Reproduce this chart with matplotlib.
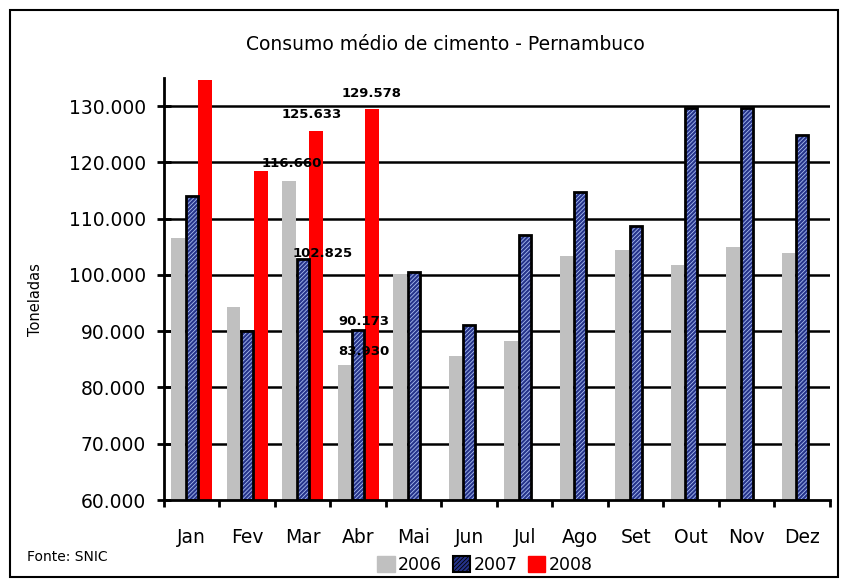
import matplotlib
matplotlib.use("Agg")
import matplotlib.pyplot as plt
from matplotlib.patches import Rectangle, Patch
import numpy as np

months = ["Jan", "Fev", "Mar", "Abr", "Mai", "Jun", "Jul", "Ago", "Set", "Out", "Nov", "Dez"]
v2006 = [106500, 94300, 116660, 83930, 100200, 85600, 88250, 103350, 104400, 101750, 105000, 103900]
v2007 = [114000, 90000, 102825, 90173, 100600, 91100, 107100, 114700, 108750, 129650, 129650, 124850]
v2008 = [134600, 118400, 125633, 129578]
yticks = [60000, 70000, 80000, 90000, 100000, 110000, 120000, 130000]
ytick_labels = ["60.000", "70.000", "80.000", "90.000", "100.000", "110.000", "120.000", "130.000"]

# labelled values: (series, month index, text)
labels = [
    (2008, 3, "129.578"),
    (2008, 2, "125.633"),
    (2006, 2, "116.660"),
    (2007, 2, "102.825"),
    (2007, 3, "90.173"),
    (2006, 3, "83.930"),
]

W, H = 845, 584
fig = plt.figure(figsize=(W / 100, H / 100), dpi=100)
fig.patch.set_facecolor("white")

# outer frame
fig.add_artist(Rectangle((10 / W, 1 - 577 / H), (838 - 10) / W, (577 - 10) / H,
                         transform=fig.transFigure, fill=False, edgecolor="black", lw=1.5))

ax = fig.add_axes([164 / W, 1 - 500 / H, (830 - 164) / W, (500 - 78) / H])
ax.set_xlim(0, 12)
ax.set_ylim(60000, 135000)

x = np.arange(12) + 0.5
bw = 0.245
gray = "#c0c0c0"
navy = "#25338a"
hatchc = "#a9bdf0"
red = "#ff0000"

for yt in yticks[1:]:
    ax.axhline(yt, color="black", lw=1.8, zorder=1)

ax.bar(x - bw, np.array(v2006) - 60000, bottom=60000, width=bw, color=gray, zorder=2, linewidth=0)
plt.rcParams["hatch.linewidth"] = 0.6
ax.bar(x, np.array(v2007) - 60000, bottom=60000, width=bw * 0.85, color=navy,
       hatch="////////", edgecolor=hatchc, linewidth=0, zorder=2)
ax.bar(x, np.array(v2007) - 60000, bottom=60000, width=bw * 0.85, fill=False,
       edgecolor="black", linewidth=2, zorder=3)
ax.bar(x[:4] + bw, np.array(v2008) - 60000, bottom=60000, width=bw * 1.05, color=red,
       linewidth=0, zorder=2)

series = {2006: (v2006, -bw), 2007: (v2007, 0.0), 2008: (v2008, bw)}
offsets = {  # label offsets in points (dx, dy)
    (2008, 3): (0, 11),
    (2008, 2): (-3, 12),
    (2006, 2): (2, 13),
    (2007, 2): (14, 4),
    (2007, 3): (4, 6),
    (2006, 3): (14, 10),
}
for s, i, t in labels:
    vals, off = series[s]
    dx, dy = offsets[(s, i)]
    ax.annotate(t, (x[i] + off, vals[i]), xytext=(dx, dy), textcoords="offset points",
                ha="center", va="center", fontsize=9.5, fontweight="bold", zorder=5,
                family="DejaVu Sans")

for sp in ["top", "right"]:
    ax.spines[sp].set_visible(False)
ax.spines["left"].set_linewidth(2)
ax.spines["bottom"].set_linewidth(2)

ax.set_yticks(yticks)
ax.set_yticklabels(ytick_labels, fontsize=13.5)
ax.tick_params(axis="y", direction="inout", length=10, width=2, pad=8)
ax.set_xticks(np.arange(13))
ax.set_xticklabels([""] * 13)
ax.tick_params(axis="x", direction="out", length=5, width=2)
ax.set_xticks(x, minor=True)
ax.set_xticklabels(months, minor=True, fontsize=13.5)
ax.tick_params(axis="x", which="minor", length=0, pad=20)

fig.text(35 / W, 1 - 300 / H, "Toneladas", rotation=90, ha="center", va="center", fontsize=10.5)
fig.text(445 / W, 1 - 45 / H, "Consumo médio de cimento - Pernambuco", ha="center", va="center",
         fontsize=13.5)
fig.text(27 / W, 1 - 557 / H, "Fonte: SNIC", ha="left", va="center", fontsize=10)

# legend
handles = [
    Patch(facecolor=gray, edgecolor=gray, label="2006"),
    Patch(facecolor=navy, edgecolor="black", hatch="////////", label="2007", linewidth=1.5),
    Patch(facecolor=red, edgecolor=red, label="2008"),
]
fig.legend(handles=handles, loc="center", bbox_to_anchor=(485 / W, 1 - 565 / H), ncol=3,
           frameon=False, fontsize=12.5, handlelength=1.0, handleheight=1.0,
           handletextpad=0.2, columnspacing=0.6)

fig.savefig("out.png", dpi=100)
